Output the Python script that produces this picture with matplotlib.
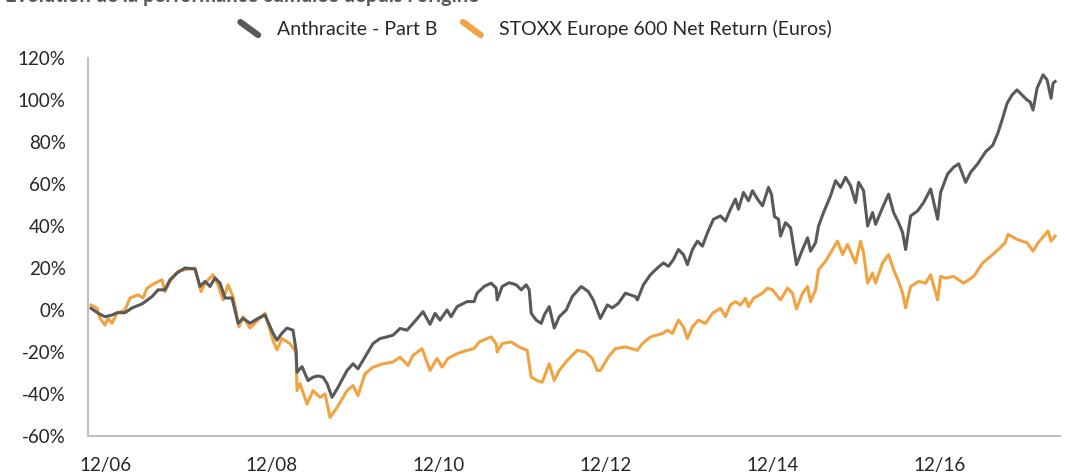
import matplotlib
matplotlib.use("Agg")
import matplotlib.pyplot as plt
from matplotlib.lines import Line2D
from matplotlib.legend_handler import HandlerBase

# ---- data (decimal years, cumulative performance in %) ----
anth_years = [2006.749, 2006.833, 2006.917, 2007.001, 2007.061, 2007.157, 2007.241, 2007.361, 2007.481, 2007.553,
              2007.636, 2007.696, 2007.780, 2007.876, 2007.996, 2008.056, 2008.116, 2008.176, 2008.236, 2008.296,
              2008.356, 2008.440, 2008.512, 2008.572, 2008.656, 2008.751, 2008.835, 2008.931, 2008.979, 2009.039,
              2009.099, 2009.171, 2009.207, 2009.219, 2009.279, 2009.351, 2009.411, 2009.471, 2009.531, 2009.579,
              2009.639, 2009.711, 2009.819, 2009.891, 2009.950, 2010.058, 2010.130, 2010.214, 2010.298, 2010.370,
              2010.454, 2010.538, 2010.610, 2010.730, 2010.814, 2010.874, 2010.934, 2011.018, 2011.066, 2011.138,
              2011.258, 2011.342, 2011.378, 2011.462, 2011.546, 2011.607, 2011.619, 2011.679, 2011.763, 2011.847,
              2011.907, 2011.967, 2012.003, 2012.027, 2012.087, 2012.147, 2012.183, 2012.243, 2012.303, 2012.363,
              2012.447, 2012.519, 2012.627, 2012.711, 2012.771, 2012.855, 2012.940, 2013.000, 2013.072, 2013.156,
              2013.276, 2013.300, 2013.372, 2013.456, 2013.540, 2013.612, 2013.672, 2013.732, 2013.792, 2013.852,
              2013.900, 2013.960, 2014.020, 2014.080, 2014.140, 2014.212, 2014.296, 2014.356, 2014.416, 2014.476,
              2014.512, 2014.572, 2014.632, 2014.680, 2014.740, 2014.800, 2014.872, 2014.908, 2014.944, 2014.992,
              2015.016, 2015.076, 2015.136, 2015.172, 2015.208, 2015.280, 2015.340, 2015.376, 2015.436, 2015.472,
              2015.532, 2015.616, 2015.676, 2015.736, 2015.796, 2015.856, 2015.916, 2015.952, 2016.012, 2016.060,
              2016.120, 2016.156, 2016.240, 2016.312, 2016.372, 2016.432, 2016.480, 2016.516, 2016.576, 2016.660,
              2016.732, 2016.816, 2016.900, 2016.936, 2016.996, 2017.020, 2017.092, 2017.152, 2017.236, 2017.296,
              2017.380, 2017.476, 2017.560, 2017.620, 2017.672, 2017.732, 2017.792, 2017.852, 2017.912, 2017.972,
              2018.008, 2018.044, 2018.092, 2018.164, 2018.212, 2018.260, 2018.284, 2018.308]
anth_vals = [0.8, -1.5, -3.2, -2.4, -1.3, -1.3, 1.0, 2.9, 6.4, 9.6,
             9.6, 14.4, 17.6, 20.0, 19.5, 11.2, 13.6, 11.2, 15.3, 12.8,
             5.7, 5.7, -6.3, -4.0, -6.3, -4.0, -2.4, -11.0, -14.4, -11.0,
             -8.6, -9.6, -19.0, -29.6, -27.0, -33.6, -32.0, -31.4, -32.0, -35.0,
             -41.6, -36.8, -28.8, -25.6, -28.0, -20.8, -16.0, -13.6, -12.8, -12.0,
             -8.8, -9.6, -6.4, -0.8, -6.8, -1.6, -4.8, 0.0, -3.2, 1.6,
             4.0, 4.0, 8.0, 11.2, 12.8, 10.4, 4.8, 11.2, 13.0, 12.0,
             9.6, 12.0, 9.6, -1.6, -4.8, -6.4, -2.4, 1.6, -8.6, -3.2,
             0.0, 6.4, 11.2, 8.8, 4.8, -4.0, 2.4, 1.0, 3.2, 8.0,
             6.4, 4.8, 12.0, 16.8, 20.0, 22.4, 20.8, 24.0, 28.8, 26.4,
             21.6, 28.8, 32.8, 30.4, 36.8, 43.2, 44.8, 42.4, 48.0, 52.8,
             48.0, 56.0, 52.0, 56.8, 52.8, 49.6, 58.4, 55.0, 44.5, 43.2,
             35.2, 41.6, 39.2, 30.4, 21.6, 28.8, 34.4, 28.0, 32.0, 40.0,
             46.4, 54.4, 61.6, 58.4, 63.2, 59.2, 51.2, 60.8, 56.8, 40.0,
             46.4, 40.8, 48.8, 55.2, 46.4, 41.6, 36.8, 28.8, 44.8, 47.2,
             51.2, 57.6, 43.2, 56.0, 62.4, 64.8, 68.0, 69.6, 60.8, 65.6,
             69.6, 75.4, 78.4, 84.0, 90.4, 98.4, 102.4, 104.8, 102.4, 100.0,
             99.2, 95.2, 105.6, 112.0, 109.6, 100.8, 108.0, 108.8]

stoxx_years = [2006.749, 2006.821, 2006.857, 2006.917, 2006.953, 2007.001, 2007.061, 2007.157, 2007.217, 2007.313,
               2007.373, 2007.421, 2007.517, 2007.600, 2007.636, 2007.696, 2007.792, 2007.876, 2007.996, 2008.068,
               2008.116, 2008.212, 2008.272, 2008.332, 2008.392, 2008.452, 2008.524, 2008.572, 2008.656, 2008.751,
               2008.835, 2008.931, 2008.979, 2009.039, 2009.135, 2009.207, 2009.219, 2009.255, 2009.339, 2009.411,
               2009.495, 2009.555, 2009.615, 2009.699, 2009.819, 2009.891, 2009.950, 2010.034, 2010.130, 2010.250,
               2010.370, 2010.454, 2010.550, 2010.610, 2010.718, 2010.814, 2010.898, 2010.958, 2011.030, 2011.138,
               2011.258, 2011.342, 2011.402, 2011.546, 2011.607, 2011.619, 2011.679, 2011.787, 2011.883, 2011.979,
               2012.027, 2012.099, 2012.159, 2012.243, 2012.303, 2012.363, 2012.459, 2012.579, 2012.675, 2012.759,
               2012.819, 2012.855, 2012.952, 2013.036, 2013.156, 2013.300, 2013.360, 2013.456, 2013.600, 2013.660,
               2013.720, 2013.792, 2013.852, 2013.900, 2013.960, 2014.032, 2014.116, 2014.200, 2014.296, 2014.356,
               2014.416, 2014.476, 2014.536, 2014.596, 2014.632, 2014.692, 2014.800, 2014.860, 2014.920, 2015.016,
               2015.100, 2015.160, 2015.208, 2015.280, 2015.340, 2015.376, 2015.436, 2015.472, 2015.556, 2015.616,
               2015.700, 2015.760, 2015.820, 2015.880, 2015.916, 2015.976, 2016.012, 2016.060, 2016.120, 2016.156,
               2016.240, 2016.312, 2016.372, 2016.432, 2016.480, 2016.516, 2016.576, 2016.672, 2016.756, 2016.816,
               2016.900, 2016.936, 2016.996, 2017.092, 2017.212, 2017.332, 2017.440, 2017.560, 2017.648, 2017.708,
               2017.744, 2017.852, 2017.972, 2018.044, 2018.104, 2018.224, 2018.260, 2018.308]
stoxx_vals = [2.4, 0.8, -4.0, -7.2, -4.0, -6.3, -1.5, 0.0, 5.7, 7.2,
              5.7, 10.4, 12.8, 14.4, 8.8, 13.6, 18.4, 19.2, 20.0, 8.8,
              12.8, 16.8, 12.0, 4.8, 12.0, 6.4, -8.0, -3.2, -8.6, -4.8,
              -1.5, -14.4, -19.0, -13.6, -16.0, -20.0, -38.4, -35.0, -44.8, -38.4,
              -41.6, -40.0, -51.2, -46.4, -38.4, -36.0, -40.8, -30.4, -27.2, -25.6,
              -24.8, -22.4, -26.4, -21.6, -18.4, -28.8, -23.0, -27.2, -23.0, -20.8,
              -19.2, -18.4, -15.2, -12.8, -16.0, -20.0, -16.0, -15.2, -17.6, -19.2,
              -32.0, -33.6, -34.4, -25.6, -33.6, -28.8, -24.0, -19.2, -20.0, -23.0,
              -28.8, -28.8, -22.4, -18.4, -17.6, -19.2, -16.0, -12.8, -11.2, -9.6,
              -11.2, -4.8, -8.0, -13.6, -8.0, -4.8, -6.4, -1.6, 0.8, -3.2,
              2.4, 4.0, 2.4, 5.6, 1.6, 5.6, 8.0, 10.4, 9.6, 4.8,
              10.4, 8.0, 0.5, 8.0, 11.2, 4.0, 9.6, 19.2, 23.2, 27.2,
              32.8, 26.4, 31.2, 25.6, 22.4, 32.8, 27.2, 12.8, 17.6, 12.8,
              22.4, 26.4, 19.2, 13.6, 8.0, 1.0, 11.2, 13.6, 12.8, 16.8,
              4.8, 16.0, 15.2, 16.0, 12.8, 16.0, 22.4, 26.4, 29.6, 32.0,
              36.0, 33.6, 32.0, 28.0, 32.0, 37.6, 32.8, 35.2]

xtick_pos = [2006.917, 2008.917, 2010.917, 2012.917, 2014.917, 2016.917]
xtick_labels = ["12/06", "12/08", "12/10", "12/12", "12/14", "12/16"]
ytick_vals = [-60, -40, -20, 0, 20, 40, 60, 80, 100, 120]

series_names = ["Anthracite - Part B", "STOXX Europe 600 Net Return (Euros)"]
title_text = "Evolution de la performance cumulée depuis l'origine"

GRAY = "#595959"
ORANGE = "#F2A341"
TXT = "#262626"

plt.rcParams["font.family"] = ["Lato", "DejaVu Sans"]

fig = plt.figure(figsize=(10.66, 4.76), dpi=100)
W, H = 1066, 476
ax = fig.add_axes([88 / W, 1 - 436 / H, (1060 - 88) / W, (436 - 58) / H])

ax.plot(stoxx_years, stoxx_vals, color=ORANGE, lw=2.2, label=series_names[1], zorder=2)
ax.plot(anth_years, anth_vals, color=GRAY, lw=2.2, label=series_names[0], zorder=3)

ax.set_xlim(2006.713, 2018.367)
ax.set_ylim(-60, 120)
ax.set_yticks(ytick_vals)
ax.set_yticklabels([f"{v}%" for v in ytick_vals])
ax.set_xticks(xtick_pos)
ax.set_xticklabels(xtick_labels)
ax.tick_params(axis="both", length=0, labelsize=13.5, colors=TXT)
ax.tick_params(axis="y", pad=16)
ax.tick_params(axis="x", pad=15)

for s in ["top", "right"]:
    ax.spines[s].set_visible(False)
for s in ["left", "bottom"]:
    ax.spines[s].set_color("#BFBFBF")
    ax.spines[s].set_linewidth(1.5)


class DiagHandler(HandlerBase):
    def create_artists(self, legend, orig_handle, xdescent, ydescent, width, height, fontsize, trans):
        x0 = -xdescent + width * 0.1
        x1 = -xdescent + width * 0.8
        y0 = -ydescent + height * 0.95
        y1 = -ydescent + height * 0.0
        ln = Line2D([x0, x1], [y0, y1], color=orig_handle.get_color(), lw=4.5,
                    solid_capstyle="round", transform=trans)
        return [ln]


handles = [Line2D([], [], color=GRAY), Line2D([], [], color=ORANGE)]
leg = fig.legend(handles, series_names, loc="center", bbox_to_anchor=(535 / W, 1 - 29 / H),
                 ncol=2, frameon=False, fontsize=14, handler_map={Line2D: DiagHandler()},
                 handlelength=1.3, handletextpad=0.7, columnspacing=1.2)
for t in leg.get_texts():
    t.set_color(TXT)

fig.text(5 / W, 1 - 2 / H, title_text, ha="left", va="baseline", fontsize=14.5,
         fontweight="bold", color="#595959")

fig.savefig("out.png", dpi=100)
